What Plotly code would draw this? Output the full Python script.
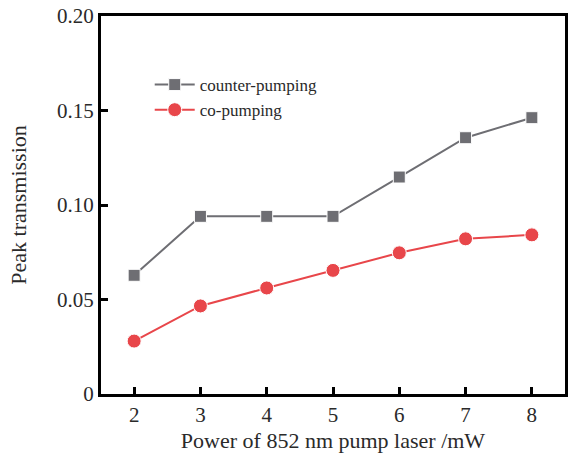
import plotly.graph_objects as go

power_mw = [2, 3, 4, 5, 6, 7, 8]
counter_pumping = [0.0628, 0.0940, 0.0940, 0.0940, 0.1148, 0.1356, 0.1462]
co_pumping = [0.0280, 0.0466, 0.0561, 0.0654, 0.0747, 0.0821, 0.0842]
y_ticks = [0, 0.05, 0.10, 0.15, 0.20]
y_tick_labels = ["0", "0.05", "0.10", "0.15", "0.20"]

FONT = "Liberation Serif"
TXT = "#2a2a2a"
GRAY = "#6e6e73"
RED = "#e8464a"

fig = go.Figure()
fig.add_trace(go.Scatter(
    x=power_mw, y=counter_pumping, name="counter-pumping",
    mode="lines+markers",
    line=dict(color=GRAY, width=2),
    marker=dict(symbol="square", size=12, color=GRAY, line=dict(color="white", width=1)),
))
fig.add_trace(go.Scatter(
    x=power_mw, y=co_pumping, name="co-pumping",
    mode="lines+markers",
    line=dict(color=RED, width=2),
    marker=dict(symbol="circle", size=14, color=RED, line=dict(color="white", width=1)),
))

axis_common = dict(
    showline=True, linecolor="black", linewidth=3, mirror=True,
    ticks="inside", ticklen=7, tickwidth=3, tickcolor="black",
    showgrid=False, zeroline=False,
    tickfont=dict(family=FONT, size=21, color=TXT),
)
fig.update_xaxes(range=[1.5, 8.5], tickvals=power_mw,
                 title=dict(text="Power of 852 nm pump laser /mW", font=dict(family=FONT, size=22, color=TXT), standoff=7),
                 **axis_common)
fig.update_yaxes(range=[0, 0.20], tickvals=y_ticks, ticktext=y_tick_labels,
                 title=dict(text="Peak transmission", font=dict(family=FONT, size=22, color=TXT), standoff=25),
                 **axis_common)

fig.update_layout(
    width=570, height=459,
    margin=dict(l=101, r=2, t=16, b=65),
    paper_bgcolor="white", plot_bgcolor="white",
    font=dict(family=FONT, size=17, color=TXT),
    showlegend=True,
    legend=dict(x=0.105, y=0.865, xanchor="left", yanchor="top",
                bgcolor="rgba(0,0,0,0)", font=dict(family=FONT, size=17, color=TXT),
                tracegroupgap=0, itemwidth=40),
)

fig.write_html("out.html")
